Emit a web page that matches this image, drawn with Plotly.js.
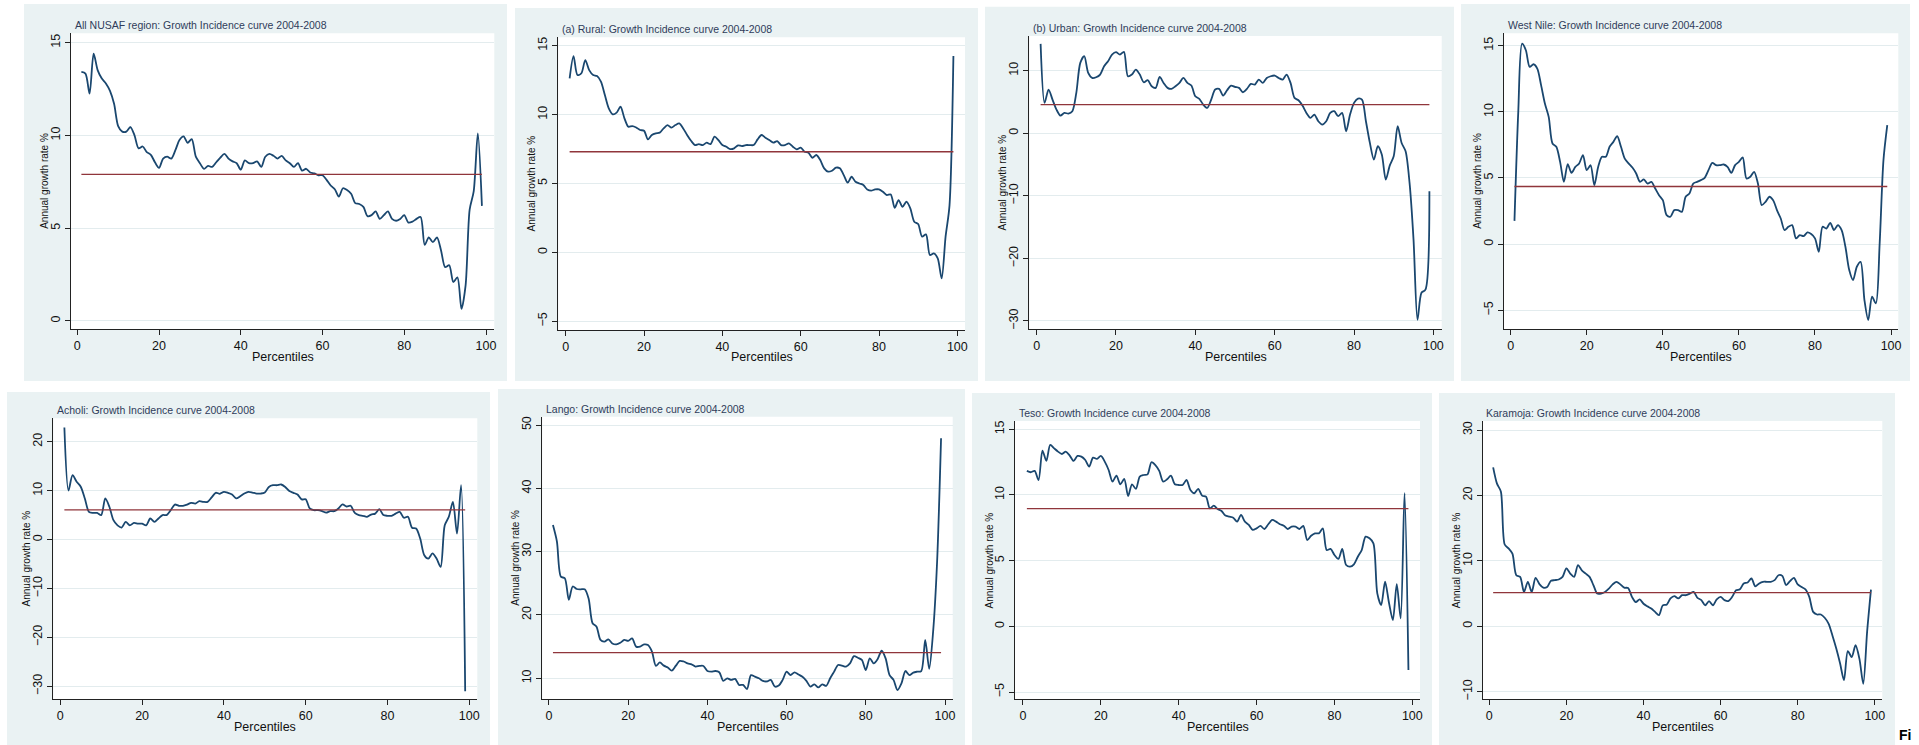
<!DOCTYPE html>
<html>
<head>
<meta charset="utf-8">
<script src="https://cdn.plot.ly/plotly-3.0.1.min.js"></script>
<style>
html,body{margin:0;padding:0;background:#ffffff;}
#chart{width:1919px;height:745px;}
</style>
</head>
<body>
<div id="chart"></div>
<script>
// ---------------- DATA ----------------
const percentiles = [1,2,3,4,5,6,7,8,9,10,11,12,13,14,15,16,17,18,19,20,21,22,23,24,25,26,27,28,29,30,31,32,33,34,35,36,37,38,39,40,41,42,43,44,45,46,47,48,49,50,51,52,53,54,55,56,57,58,59,60,61,62,63,64,65,66,67,68,69,70,71,72,73,74,75,76,77,78,79,80,81,82,83,84,85,86,87,88,89,90,91,92,93,94,95,96,97,98,99];

const panelTitles = [
  "All NUSAF region: Growth Incidence curve 2004-2008",
  "(a) Rural: Growth Incidence curve 2004-2008",
  "(b) Urban: Growth Incidence curve 2004-2008",
  "West Nile: Growth Incidence curve 2004-2008",
  "Acholi: Growth Incidence curve 2004-2008",
  "Lango: Growth Incidence curve 2004-2008",
  "Teso: Growth Incidence curve 2004-2008",
  "Karamoja: Growth Incidence curve 2004-2008"
];

const nusaf = [13.42,13.33,12.25,14.4,13.5,13.06,12.8,12.4,11.7,10.5,10.2,10.2,10.45,10.0,9.3,9.4,9.1,8.95,8.55,8.25,8.75,8.85,8.75,9.2,9.75,9.95,9.6,9.8,8.85,8.5,8.2,8.35,8.3,8.55,8.8,9.0,8.75,8.6,8.5,8.15,8.65,8.5,8.5,8.6,8.3,8.85,9.0,8.9,8.75,8.9,8.65,8.5,8.3,8.5,8.1,8.2,8.0,7.95,7.85,7.85,7.6,7.3,7.1,6.7,7.15,7.05,6.85,6.35,6.3,6.15,5.65,5.7,5.9,5.5,5.7,5.9,5.5,5.4,5.5,5.7,5.3,5.35,5.5,5.6,4.1,4.5,4.25,4.5,3.8,2.9,3.0,2.1,2.35,0.65,1.9,6.0,7.0,10.1,6.2];

const rural = [12.63,14.25,12.87,13.0,13.96,13.23,12.87,12.8,12.39,11.42,10.45,10.02,10.14,10.57,9.73,9.12,9.17,9.07,8.88,8.83,8.2,8.52,8.64,8.69,9.0,9.24,9.05,9.24,9.36,9.0,8.52,8.1,7.79,7.86,7.79,7.96,7.86,8.4,8.15,7.79,7.67,7.5,7.55,7.77,7.72,7.79,7.79,7.79,8.2,8.52,8.32,8.15,7.96,8.08,7.79,7.79,7.91,7.67,7.48,7.6,7.31,7.23,6.87,7.07,6.7,6.1,5.86,5.93,6.15,6.1,5.61,5.06,5.49,5.13,5.0,4.89,4.57,4.48,4.57,4.57,4.4,4.16,4.21,3.24,3.8,3.31,3.68,3.19,2.23,2.06,1.14,1.31,-0.19,-0.07,-0.44,-1.89,1.14,3.4,14.25];

const urban = [14.28,4.85,6.98,5.38,3.78,2.82,3.25,3.14,3.52,6.45,11.24,12.31,9.64,8.84,8.95,9.38,10.71,11.51,12.57,12.95,12.57,13.0,9.11,9.38,10.18,9.38,8.15,8.47,7.51,7.25,9.0,8.04,7.25,7.09,7.51,8.04,8.84,8.04,7.62,5.91,5.49,4.58,4.05,5.38,6.98,7.09,6.02,6.87,7.62,7.41,7.25,6.55,7.09,7.88,7.78,8.58,8.04,8.84,9.11,9.22,8.84,8.58,9.38,8.04,5.65,5.27,4.42,3.25,2.45,2.98,1.92,1.39,1.92,3.25,3.52,2.72,3.25,0.32,2.98,4.85,5.54,5.38,1.92,-1.55,-4.21,-2.08,-3.41,-7.41,-5.17,-3.68,1.12,-1.55,-2.88,-7.94,-17.0,-29.8,-25.5,-25.0,-9.27];

const westNile = [1.76,10.0,15.16,14.66,13.4,13.6,13.27,12.02,10.63,9.62,7.61,7.36,6.22,4.71,6.05,5.39,5.84,6.1,6.73,5.59,5.97,4.46,5.84,6.6,6.6,7.36,7.73,8.16,7.36,6.47,6.1,5.79,5.34,4.71,4.89,4.58,4.71,4.21,3.7,3.32,2.19,2.07,2.57,2.57,2.44,3.58,3.83,4.58,4.71,4.84,5.01,5.59,6.15,5.97,5.97,6.02,5.84,5.39,5.97,6.22,6.55,4.96,5.09,5.47,4.58,2.95,3.2,3.58,3.32,2.57,1.94,1.06,1.31,1.44,0.43,0.68,0.6,0.88,0.76,0.43,-0.58,1.31,1.18,1.61,1.06,1.44,1.06,-0.2,-1.96,-2.72,-1.71,-1.34,-4.23,-5.74,-3.98,-4.48,0.05,6.35,8.99];

const acholi = [22.9,10.0,13.15,11.8,10.8,8.4,5.65,5.45,5.45,5.0,8.4,6.7,3.95,2.9,2.45,3.6,2.9,3.4,3.25,3.25,2.9,4.3,3.6,4.3,5.0,5.0,6.0,7.15,6.9,6.9,7.15,7.5,7.35,7.85,7.7,7.7,8.6,9.55,9.35,9.75,9.55,9.2,8.4,8.85,9.4,9.75,9.6,9.4,9.4,9.6,10.75,11.1,11.1,11.25,10.75,9.9,9.55,9.2,8.2,8.25,6.35,6.0,6.0,5.8,5.5,5.8,5.8,6.35,7.2,6.75,6.9,5.45,5.0,4.85,4.65,5.1,5.3,6.2,5.0,4.85,4.85,5.3,5.65,4.45,4.65,2.4,2.25,0.2,-3.2,-3.9,-2.85,-3.9,-5.6,2.9,4.65,7.7,1.2,11.1,-31.0];

const lango = [34.2,31.6,26.05,25.8,22.4,24.5,24.1,24.05,24.05,22.6,18.7,18.15,16.05,15.8,16.15,15.5,15.35,15.6,16.05,15.9,16.3,15.0,15.0,15.35,15.25,14.2,11.95,12.5,12.0,11.7,11.2,11.95,12.75,12.65,12.35,12.2,11.85,11.95,11.95,11.15,11.05,11.15,10.95,9.6,10.0,9.75,9.9,8.95,8.95,8.3,10.5,10.25,10.0,9.6,9.5,9.75,8.7,8.85,9.75,11.05,10.5,10.95,10.6,10.25,9.6,8.7,9.05,8.55,9.05,8.8,10.0,11.05,12.1,12.0,11.85,12.35,13.5,13.25,12.9,11.3,13.15,12.35,13.05,14.35,13.15,10.5,9.75,8.15,9.2,11.15,10.5,10.9,11.05,11.15,16.05,11.5,17.4,28.4,47.9];

const teso = [11.83,11.73,11.83,11.14,13.38,12.59,13.81,13.55,13.3,13.12,13.3,13.0,12.59,12.97,12.92,12.66,12.16,12.84,12.74,12.97,12.54,11.9,11.02,11.47,10.81,11.22,9.92,10.81,10.46,11.4,11.52,11.57,12.49,12.28,11.83,11.02,11.19,11.47,10.81,10.76,10.76,11.14,10.38,10.13,10.46,9.95,9.87,8.98,9.19,8.93,8.78,8.43,8.35,8.27,7.97,8.48,7.97,7.72,7.34,7.46,7.64,7.41,7.77,8.1,7.97,7.77,7.66,7.41,7.59,7.59,7.41,7.64,6.57,6.9,7.08,7.08,7.46,5.81,5.89,5.43,5.13,5.89,4.67,4.54,4.72,5.3,5.81,6.83,6.7,6.32,2.51,1.62,3.4,1.8,0.48,3.22,0.61,10.13,-3.32];

const karamoja = [24.3,21.8,20.6,12.5,11.9,11.1,7.8,7.55,5.25,6.8,5.25,7.4,6.45,5.9,6.0,6.95,7.05,7.15,7.55,8.85,8.05,7.55,9.35,8.55,8.05,7.55,6.3,5.0,5.0,5.25,5.75,6.4,6.8,6.4,5.9,5.85,4.5,3.7,4.1,3.45,3.05,2.7,2.2,1.7,3.2,3.3,4.25,4.6,4.25,4.75,4.75,5.0,5.25,4.35,4.0,3.2,3.85,3.2,4.1,4.5,4.0,3.85,4.5,5.5,5.65,6.55,6.7,7.3,6.1,6.55,6.8,6.8,6.8,7.05,7.8,7.7,6.3,6.9,7.4,6.4,6.0,5.65,4.5,2.2,1.8,1.8,1.3,0.4,-1.4,-3.4,-5.7,-8.25,-3.8,-4.7,-2.9,-4.95,-8.8,-0.85,5.6];

const meanGrowth = [7.9, 7.31, 4.58, 4.36, 6.06, 14.05, 8.96, 5.15];

const xTitle = "Percentiles";
const yTitle = "Annual growth rate %";
const cornerText = "Fi";

// ---------------- LAYOUT GEOMETRY (pixels) ----------------
const W = 1919, H = 745;
const series = [nusaf, rural, urban, westNile, acholi, lango, teso, karamoja];
const panels = [
  {bg:[24,4,507,381],    plot:[71,33.3,494.3,329.3],    xr:[-1.54,102.03], yr:[-0.45,15.5],  dt:5},
  {bg:[515,8,978,381],   plot:[558.3,37.3,965,330],     xr:[-1.89,101.96], yr:[-5.63,15.61], dt:5},
  {bg:[985,6.7,1454,381],plot:[1029.3,36,1441.7,329.3], xr:[-1.85,102.1],  yr:[-31.33,15.54],dt:10},
  {bg:[1461,4,1910,381], plot:[1504,33.3,1898.3,329.3], xr:[-1.75,101.9],  yr:[-6.44,15.94], dt:5},
  {bg:[7,392,490,745],   plot:[53.3,418.3,477.3,699],   xr:[-1.71,101.96], yr:[-32.6,24.78], dt:10},
  {bg:[498,389,965,745], plot:[542.3,416.7,952.7,699],  xr:[-1.69,101.94], yr:[6.73,51.31],  dt:10},
  {bg:[972,393,1432,745],plot:[1015,421,1420,699],      xr:[-2.05,101.97], yr:[-5.53,15.63], dt:5},
  {bg:[1439,393,1895,745],plot:[1482.7,421,1882.3,699], xr:[-1.71,101.94], yr:[-11.12,31.38],dt:10}
];

const FONT = "Liberation Sans, Arial, Helvetica, sans-serif";
const curveColor = "#1A476F";
const meanColor = "#90353B";
const bgColor = "#EAF2F3";
const gridColor = "#E3ECEE";
const titleColor = "#2F3C5A";

const fx = px => px / W;
const fy = py => 1 - py / H;

const traces = [];
const shapes = [];
const annotations = [];
const layout = {
  width: W, height: H,
  margin: {l:0, r:0, t:0, b:0, pad:0},
  paper_bgcolor: "#ffffff",
  plot_bgcolor: "rgba(0,0,0,0)",
  showlegend: false,
  font: {family: FONT, color: "#000"}
};

panels.forEach((p, i) => {
  const n = i + 1;
  const xa = n === 1 ? "x" : "x" + n;
  const ya = n === 1 ? "y" : "y" + n;
  const xKey = n === 1 ? "xaxis" : "xaxis" + n;
  const yKey = n === 1 ? "yaxis" : "yaxis" + n;
  const [l, t, r, b] = p.plot;

  layout[xKey] = {
    domain: [fx(l), fx(r)], anchor: ya, range: p.xr,
    tickmode: "linear", tick0: 0, dtick: 20,
    showgrid: false, zeroline: false,
    showline: true, linecolor: "#222", linewidth: 1,
    ticks: "outside", ticklen: 5, tickwidth: 1, tickcolor: "#222",
    tickfont: {family: FONT, size: 12.5, color: "#111"},
    fixedrange: true
  };
  layout[yKey] = {
    domain: [fy(b), fy(t)], anchor: xa, range: p.yr,
    tickmode: "linear", tick0: 0, dtick: p.dt,
    showgrid: true, gridcolor: gridColor, gridwidth: 1,
    zeroline: false,
    showline: true, linecolor: "#222", linewidth: 1,
    ticks: "outside", ticklen: 5, tickwidth: 1, tickcolor: "#222",
    tickangle: -90,
    tickfont: {family: FONT, size: 12.5, color: "#111"},
    fixedrange: true
  };

  // panel background and white plot region
  shapes.push({type:"rect", xref:"paper", yref:"paper", layer:"below",
    x0: fx(p.bg[0]), x1: fx(p.bg[2]), y0: fy(p.bg[3]), y1: fy(p.bg[1]),
    fillcolor: bgColor, line: {width: 0}});
  shapes.push({type:"rect", xref:"paper", yref:"paper", layer:"below",
    x0: fx(l), x1: fx(r), y0: fy(b), y1: fy(t),
    fillcolor: "#ffffff", line: {width: 0}});

  traces.push({
    x: percentiles, y: series[i], xaxis: xa, yaxis: ya,
    type: "scatter", mode: "lines", hoverinfo: "skip",
    line: {color: curveColor, width: 1.8, shape: "spline", smoothing: 0.8}
  });
  traces.push({
    x: [percentiles[0], percentiles[percentiles.length - 1]],
    y: [meanGrowth[i], meanGrowth[i]], xaxis: xa, yaxis: ya,
    type: "scatter", mode: "lines", hoverinfo: "skip",
    line: {color: meanColor, width: 1.4}
  });

  // panel title
  annotations.push({text: panelTitles[i], xref:"paper", yref:"paper",
    x: fx(l + 1.5), y: fy(t - 8), xanchor:"left", yanchor:"middle",
    showarrow:false, font:{family: FONT, size: 10.5, color: titleColor}});
  // x axis title
  annotations.push({text: xTitle, xref:"paper", yref:"paper",
    x: fx((l + r) / 2), y: fy(b + 27.5), xanchor:"center", yanchor:"middle",
    showarrow:false, font:{family: FONT, size: 12.5, color: "#111"}});
  // y axis title
  annotations.push({text: yTitle, xref:"paper", yref:"paper",
    x: fx(l - 26.5), y: fy((t + b) / 2), xanchor:"center", yanchor:"middle",
    textangle: -90, showarrow:false, font:{family: FONT, size: 10, color: "#111"}});
});

// partially visible figure caption at the bottom-right corner, kept fully inside the page
annotations.push({text: "<b>" + cornerText + "</b>", xref:"paper", yref:"paper",
  x: fx(1898), y: fy(744), xanchor:"left", yanchor:"bottom",
  showarrow:false, borderpad:0, font:{family: FONT, size: 14, color: "#000"}});

layout.shapes = shapes;
layout.annotations = annotations;

Plotly.newPlot("chart", traces, layout, {displayModeBar: false, staticPlot: true});
</script>
</body>
</html>
